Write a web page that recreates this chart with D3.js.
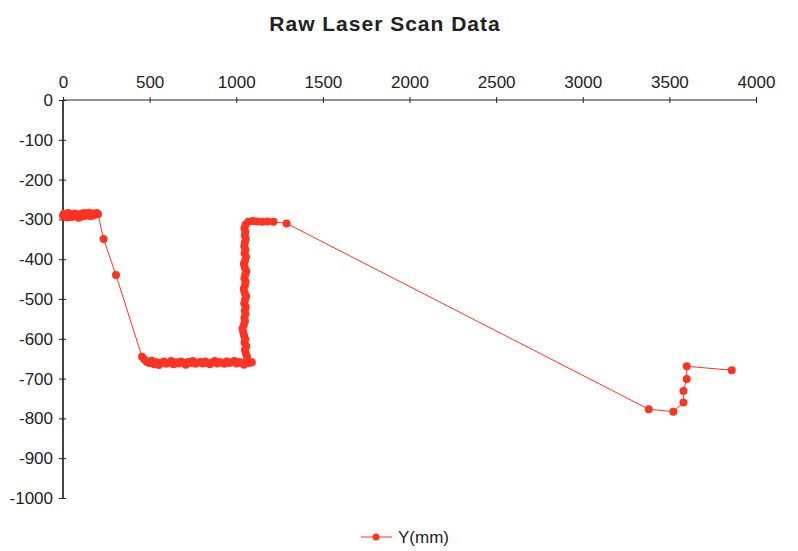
<!DOCTYPE html>
<html>
<head>
<meta charset="utf-8">
<script src="https://cdn.jsdelivr.net/npm/d3@7"></script>
<style>
  body { margin: 0; background: #fff; }
  text { font-family: "Liberation Sans", Arial, sans-serif; fill: #222; }
</style>
</head>
<body>
<div id="chart"></div>
<script>
// scan points (x mm, y mm)
var scanX = [0, 5, 12, 18, 25, 30, 38, 45, 52, 60, 68, 75, 82, 90, 98, 105, 112, 120, 128, 135, 142, 150, 158, 165, 172, 180, 188, 195, 202,
  234, 306, 456,
  470, 484, 498, 512, 526, 540, 554, 568, 582, 596, 610, 624, 638, 652, 666, 680, 694, 708, 722, 736, 750, 764, 778, 792, 806, 820, 834, 848, 862, 876, 890, 904, 918, 932, 946, 960, 974, 988, 1002, 1016, 1030, 1044, 1060, 1075, 1090,
  1062, 1055, 1050, 1058, 1048, 1052, 1045, 1040, 1036, 1044, 1050, 1047, 1053, 1049, 1055, 1046, 1051, 1057, 1048, 1043, 1050, 1054, 1047, 1052, 1058, 1049, 1044, 1051, 1056, 1048, 1053, 1046, 1050, 1055, 1049, 1052, 1047, 1054,
  1070, 1095, 1120, 1150, 1180, 1215, 1290,
  3381, 3523, 3581, 3581, 3600, 3600, 3860];
var scanY = [-290, -286, -293, -288, -295, -284, -291, -287, -294, -289, -285, -292, -288, -296, -290, -286, -293, -284, -291, -287, -289, -283, -292, -286, -290, -285, -288, -284, -287,
  -349, -440, -645,
  -652, -658, -661, -655, -664, -659, -666, -660, -657, -663, -661, -656, -664, -659, -662, -657, -660, -665, -658, -661, -656, -663, -660, -658, -662, -657, -661, -664, -659, -656, -662, -658, -660, -663, -657, -661, -659, -656, -662, -658, -660, -665, -657, -661, -659,
  -645, -636, -628, -619, -610, -601, -592, -583, -574, -565, -556, -547, -538, -529, -520, -511, -502, -493, -484, -475, -466, -457, -448, -439, -430, -421, -412, -403, -394, -385, -376, -367, -358, -349, -340, -331, -322, -313,
  -306, -304, -305, -306, -305, -306, -310,
  -777, -783, -760, -731, -701, -669, -679];

var xTicks = [0, 500, 1000, 1500, 2000, 2500, 3000, 3500, 4000];
var yTicks = [0, -100, -200, -300, -400, -500, -600, -700, -800, -900, -1000];
var seriesName = "Y(mm)";
var chartTitle = "Raw Laser Scan Data";

var width = 798, height = 551;
var red = "#ff3322";
var fmt = function(d) { return String(d); };

var svg = d3.select("#chart").append("svg")
    .attr("width", width)
    .attr("height", height);

var x = d3.scaleLinear().domain([0, 4000]).range([63, 756]);
var y = d3.scaleLinear().domain([0, -1000]).range([100, 498]);

svg.append("text")
    .attr("x", 385)
    .attr("y", 31)
    .attr("text-anchor", "middle")
    .style("font-size", "21px")
    .style("font-weight", "bold")
    .style("letter-spacing", "1px")
    .text(chartTitle);

// x axis sits on y = 0, labels on top
var xAxis = svg.append("g")
    .attr("transform", "translate(0," + y(0) + ")")
    .call(d3.axisTop(x).tickValues(xTicks).tickFormat(fmt).tickSize(4).tickPadding(8));
xAxis.select(".domain").attr("stroke", "#222").attr("d", "M" + x(0) + ",0H" + x(4000));
xAxis.selectAll(".tick line").attr("y1", -3).attr("y2", 3).attr("stroke", "#222");
xAxis.selectAll(".tick text").style("font-size", "17px").attr("fill", "#222").style("font-family", "Liberation Sans, Arial, sans-serif");

var yAxis = svg.append("g")
    .attr("transform", "translate(" + x(0) + ",0)")
    .call(d3.axisLeft(y).tickValues(yTicks).tickFormat(fmt).tickSize(4).tickPadding(6));
yAxis.select(".domain").attr("stroke", "#444").attr("stroke-width", 2).attr("d", "M0," + y(0) + "V" + y(-1000));
yAxis.selectAll(".tick line").attr("x1", -4).attr("x2", 3).attr("stroke", "#222");
yAxis.selectAll(".tick text").style("font-size", "17px").attr("fill", "#222").style("font-family", "Liberation Sans, Arial, sans-serif");

var pts = scanX.map(function(d, i) { return [d, scanY[i]]; });

svg.append("path")
    .datum(pts)
    .attr("fill", "none")
    .attr("stroke", red)
    .attr("stroke-width", 1)
    .attr("d", d3.line()
        .x(function(d) { return x(d[0]); })
        .y(function(d) { return y(d[1]); }));

svg.selectAll("circle.pt")
    .data(pts)
    .enter()
    .append("circle")
    .attr("class", "pt")
    .attr("cx", function(d) { return x(d[0]); })
    .attr("cy", function(d) { return y(d[1]); })
    .attr("r", 4)
    .attr("fill", red);

// legend
var lg = svg.append("g").attr("transform", "translate(0,537)");
lg.append("line").attr("x1", 361).attr("x2", 392).attr("y1", 0).attr("y2", 0)
    .attr("stroke", red).attr("stroke-width", 1);
lg.append("circle").attr("cx", 376).attr("cy", 0).attr("r", 3.5).attr("fill", red);
lg.append("text").attr("x", 398).attr("y", 6)
    .style("font-size", "17px")
    .text(seriesName);
</script>
</body>
</html>
